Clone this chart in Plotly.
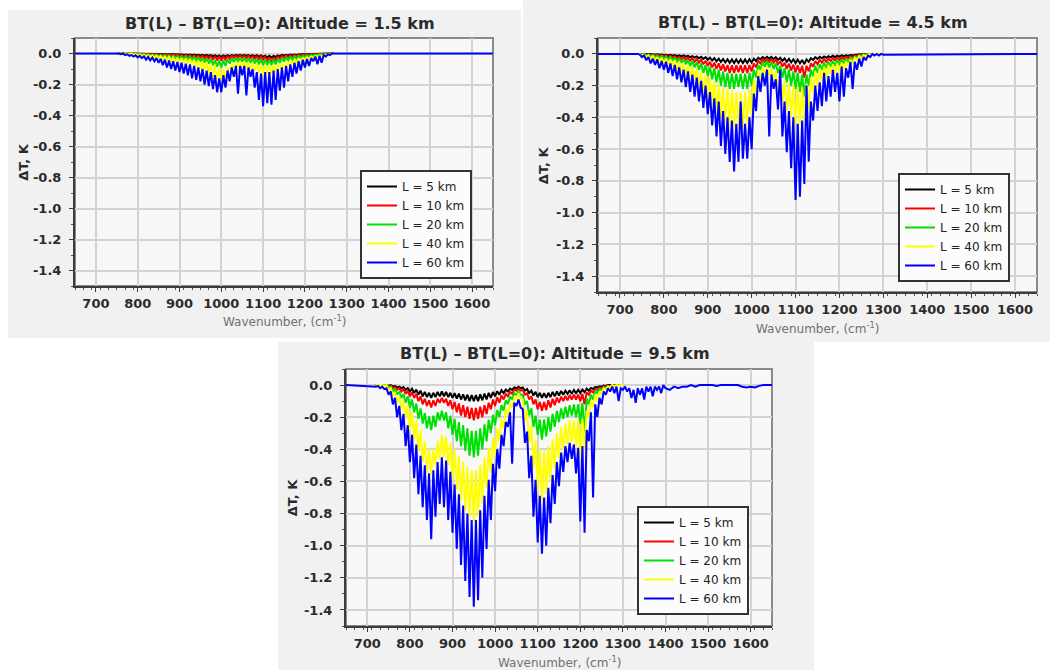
import plotly.graph_objects as go

# Axis limits and ticks shared by the three panels
WN_MIN, WN_MAX = 650, 1650
X_TICKS = list(range(700, 1601, 100))
Y_TICKS = [0.0, -0.2, -0.4, -0.6, -0.8, -1.0, -1.2, -1.4]
Y_TICK_TEXT = ["0.0", "-0.2", "-0.4", "-0.6", "-0.8", "-1.0", "-1.2", "-1.4"]

PATH_LABELS = ["L = 5 km", "L = 10 km", "L = 20 km", "L = 40 km", "L = 60 km"]
PATH_COLORS = ["#000000", "#ff0000", "#00e000", "#ffff00", "#0000ff"]

# Wavenumber grids (cm^-1) on which the brightness-temperature differences are tabulated
WN_15 = list(range(750, 1271, 5))
WN_45 = list(range(740, 1301, 5))
WN_95 = list(range(720, 1301, 5))
WN_95_TAIL = list(range(1305, 1401, 5)) + list(range(1410, 1651, 10))

# ---------------- Altitude 1.5 km ----------------
DT_15_5 = [
    0, 0, 0, 0, 0, 0, 0, 0, -0.001, 0,
    -0.002, -0.001, -0.002, -0.001, -0.003, -0.002, -0.003, -0.002, -0.004, -0.002,
    -0.004, -0.003, -0.005, -0.003, -0.006, -0.004, -0.006, -0.004, -0.007, -0.005,
    -0.008, -0.005, -0.009, -0.006, -0.01, -0.006, -0.011, -0.007, -0.012, -0.008,
    -0.013, -0.008, -0.015, -0.009, -0.016, -0.01, -0.018, -0.011, -0.02, -0.013,
    -0.022, -0.013, -0.02, -0.011, -0.017, -0.01, -0.015, -0.009, -0.014, -0.009,
    -0.015, -0.009, -0.016, -0.01, -0.017, -0.01, -0.018, -0.011, -0.02, -0.013,
    -0.022, -0.014, -0.024, -0.015, -0.026, -0.015, -0.022, -0.012, -0.017, -0.009,
    -0.014, -0.008, -0.012, -0.007, -0.01, -0.006, -0.009, -0.005, -0.007, -0.004,
    -0.006, -0.003, -0.005, -0.003, -0.004, -0.002, -0.003, -0.001, -0.002, 0,
    -0.001, 0, 0, 0, 0,
]
DT_15_10 = [
    0, 0, 0, 0, 0, 0, 0, 0, -0.002, -0.001,
    -0.003, -0.002, -0.004, -0.002, -0.005, -0.003, -0.006, -0.003, -0.007, -0.004,
    -0.008, -0.005, -0.01, -0.005, -0.011, -0.006, -0.013, -0.007, -0.014, -0.008,
    -0.016, -0.009, -0.018, -0.01, -0.02, -0.011, -0.022, -0.012, -0.024, -0.013,
    -0.027, -0.014, -0.03, -0.016, -0.033, -0.018, -0.037, -0.02, -0.042, -0.022,
    -0.045, -0.021, -0.04, -0.018, -0.033, -0.015, -0.028, -0.014, -0.026, -0.013,
    -0.027, -0.014, -0.029, -0.015, -0.031, -0.016, -0.034, -0.018, -0.037, -0.019,
    -0.04, -0.021, -0.045, -0.025, -0.055, -0.025, -0.045, -0.019, -0.032, -0.015,
    -0.027, -0.012, -0.023, -0.011, -0.02, -0.009, -0.017, -0.008, -0.014, -0.007,
    -0.012, -0.005, -0.01, -0.004, -0.008, -0.003, -0.006, -0.002, -0.004, -0.001,
    -0.002, 0, -0.001, 0, 0,
]
DT_15_20 = [
    0, 0, 0, 0, 0, 0, 0, 0, -0.005, -0.003,
    -0.007, -0.004, -0.009, -0.005, -0.011, -0.006, -0.013, -0.007, -0.015, -0.008,
    -0.018, -0.01, -0.02, -0.011, -0.023, -0.013, -0.026, -0.014, -0.029, -0.016,
    -0.032, -0.018, -0.035, -0.019, -0.038, -0.021, -0.042, -0.023, -0.047, -0.026,
    -0.052, -0.029, -0.058, -0.032, -0.065, -0.036, -0.075, -0.042, -0.085, -0.046,
    -0.09, -0.044, -0.08, -0.037, -0.065, -0.031, -0.055, -0.028, -0.05, -0.027,
    -0.052, -0.028, -0.056, -0.031, -0.06, -0.033, -0.065, -0.035, -0.07, -0.038,
    -0.075, -0.039, -0.075, -0.039, -0.075, -0.038, -0.07, -0.034, -0.06, -0.029,
    -0.052, -0.025, -0.045, -0.022, -0.04, -0.019, -0.034, -0.016, -0.028, -0.013,
    -0.023, -0.011, -0.019, -0.009, -0.015, -0.007, -0.011, -0.005, -0.008, -0.003,
    -0.005, -0.001, -0.002, 0, 0,
]
DT_15_40 = [
    0, 0, 0, 0, 0, 0, -0.005, 0, -0.01, -0.003,
    -0.012, -0.006, -0.015, -0.008, -0.018, -0.01, -0.022, -0.012, -0.026, -0.014,
    -0.03, -0.017, -0.035, -0.02, -0.04, -0.022, -0.045, -0.025, -0.05, -0.028,
    -0.055, -0.03, -0.06, -0.033, -0.065, -0.036, -0.075, -0.04, -0.085, -0.045,
    -0.1, -0.05, -0.11, -0.055, -0.13, -0.065, -0.15, -0.075, -0.17, -0.09,
    -0.18, -0.1, -0.15, -0.09, -0.11, -0.07, -0.09, -0.055, -0.09, -0.05,
    -0.09, -0.05, -0.1, -0.055, -0.1, -0.06, -0.11, -0.062, -0.13, -0.07,
    -0.14, -0.075, -0.13, -0.075, -0.13, -0.072, -0.12, -0.07, -0.1, -0.062,
    -0.09, -0.055, -0.08, -0.048, -0.07, -0.042, -0.06, -0.036, -0.05, -0.03,
    -0.04, -0.025, -0.035, -0.02, -0.03, -0.017, -0.02, -0.013, -0.015, -0.009,
    -0.01, -0.006, -0.005, -0.003, 0,
]
DT_15_60 = [
    0, 0, -0.005, 0, -0.01, -0.005, -0.015, -0.01, -0.02, -0.012,
    -0.025, -0.015, -0.03, -0.018, -0.04, -0.022, -0.045, -0.026, -0.05, -0.03,
    -0.06, -0.035, -0.075, -0.04, -0.09, -0.045, -0.1, -0.05, -0.11, -0.055,
    -0.12, -0.06, -0.13, -0.065, -0.14, -0.07, -0.16, -0.08, -0.17, -0.09,
    -0.18, -0.1, -0.2, -0.11, -0.21, -0.12, -0.23, -0.14, -0.25, -0.16,
    -0.25, -0.14, -0.22, -0.11, -0.18, -0.09, -0.15, -0.08, -0.26, -0.08,
    -0.14, -0.08, -0.27, -0.09, -0.15, -0.1, -0.22, -0.12, -0.3, -0.13,
    -0.34, -0.12, -0.32, -0.12, -0.33, -0.11, -0.3, -0.1, -0.24, -0.09,
    -0.22, -0.08, -0.18, -0.07, -0.15, -0.06, -0.13, -0.05, -0.11, -0.04,
    -0.09, -0.035, -0.08, -0.03, -0.05, -0.02, -0.07, -0.015, -0.06, -0.01,
    -0.02, -0.005, -0.01, 0, 0,
]

# ---------------- Altitude 4.5 km ----------------
DT_45_5 = [
    0, 0, 0, 0, 0, 0, -0.003, -0.002, -0.005, -0.003,
    -0.006, -0.004, -0.008, -0.005, -0.01, -0.006, -0.012, -0.007, -0.014, -0.009,
    -0.016, -0.01, -0.018, -0.012, -0.021, -0.014, -0.024, -0.016, -0.028, -0.018,
    -0.032, -0.021, -0.037, -0.024, -0.042, -0.027, -0.047, -0.03, -0.051, -0.032,
    -0.054, -0.034, -0.057, -0.035, -0.058, -0.035, -0.057, -0.035, -0.058, -0.035,
    -0.058, -0.034, -0.055, -0.03, -0.045, -0.024, -0.035, -0.02, -0.03, -0.018,
    -0.03, -0.019, -0.033, -0.021, -0.038, -0.025, -0.044, -0.028, -0.05, -0.031,
    -0.054, -0.034, -0.058, -0.036, -0.06, -0.038, -0.065, -0.035, -0.05, -0.027,
    -0.038, -0.021, -0.032, -0.018, -0.028, -0.016, -0.025, -0.014, -0.022, -0.012,
    -0.02, -0.011, -0.018, -0.01, -0.016, -0.009, -0.013, -0.007, -0.01, -0.005,
    -0.006, -0.003, -0.004, -0.001, -0.002, 0, 0, 0, 0, 0,
    0, 0, 0,
]
DT_45_10 = [
    0, 0, 0, 0, -0.005, -0.003, -0.008, -0.005, -0.01, -0.006,
    -0.013, -0.008, -0.016, -0.01, -0.02, -0.012, -0.024, -0.015, -0.028, -0.018,
    -0.032, -0.02, -0.037, -0.024, -0.042, -0.028, -0.048, -0.032, -0.055, -0.037,
    -0.065, -0.043, -0.075, -0.05, -0.085, -0.055, -0.095, -0.06, -0.105, -0.065,
    -0.11, -0.07, -0.12, -0.072, -0.12, -0.072, -0.115, -0.072, -0.12, -0.072,
    -0.12, -0.07, -0.11, -0.06, -0.085, -0.045, -0.06, -0.035, -0.05, -0.032,
    -0.05, -0.033, -0.055, -0.037, -0.065, -0.045, -0.08, -0.055, -0.095, -0.062,
    -0.105, -0.068, -0.115, -0.072, -0.12, -0.075, -0.15, -0.075, -0.11, -0.06,
    -0.08, -0.045, -0.065, -0.038, -0.055, -0.033, -0.05, -0.03, -0.045, -0.027,
    -0.04, -0.024, -0.038, -0.021, -0.033, -0.018, -0.027, -0.014, -0.02, -0.01,
    -0.013, -0.006, -0.008, -0.003, -0.004, 0, 0, 0, 0, 0,
    0, 0, 0,
]
DT_45_20 = [
    0, 0, -0.005, 0, -0.01, -0.005, -0.015, -0.008, -0.02, -0.01,
    -0.025, -0.013, -0.03, -0.016, -0.035, -0.02, -0.04, -0.024, -0.05, -0.028,
    -0.055, -0.033, -0.065, -0.04, -0.075, -0.045, -0.085, -0.05, -0.1, -0.06,
    -0.12, -0.07, -0.14, -0.08, -0.16, -0.09, -0.18, -0.1, -0.2, -0.11,
    -0.21, -0.12, -0.22, -0.125, -0.22, -0.125, -0.21, -0.125, -0.22, -0.125,
    -0.22, -0.12, -0.2, -0.1, -0.15, -0.07, -0.1, -0.05, -0.08, -0.045,
    -0.085, -0.05, -0.095, -0.06, -0.12, -0.075, -0.15, -0.09, -0.18, -0.1,
    -0.2, -0.11, -0.22, -0.12, -0.24, -0.13, -0.27, -0.13, -0.2, -0.1,
    -0.14, -0.075, -0.12, -0.065, -0.1, -0.055, -0.09, -0.05, -0.08, -0.045,
    -0.075, -0.04, -0.07, -0.035, -0.06, -0.03, -0.05, -0.025, -0.04, -0.018,
    -0.025, -0.01, -0.015, -0.005, -0.008, 0, -0.003, 0, 0, 0,
    0, 0, 0,
]
DT_45_40 = [
    0, 0, -0.01, -0.005, -0.02, -0.01, -0.03, -0.015, -0.04, -0.02,
    -0.05, -0.025, -0.06, -0.03, -0.07, -0.035, -0.08, -0.04, -0.1, -0.05,
    -0.11, -0.06, -0.13, -0.07, -0.15, -0.08, -0.17, -0.09, -0.2, -0.11,
    -0.24, -0.13, -0.28, -0.15, -0.32, -0.17, -0.36, -0.19, -0.4, -0.21,
    -0.43, -0.22, -0.45, -0.23, -0.46, -0.24, -0.45, -0.24, -0.46, -0.24,
    -0.44, -0.22, -0.38, -0.16, -0.26, -0.1, -0.16, -0.08, -0.13, -0.08,
    -0.14, -0.09, -0.16, -0.11, -0.22, -0.14, -0.3, -0.17, -0.36, -0.19,
    -0.4, -0.2, -0.45, -0.21, -0.44, -0.21, -0.42, -0.19, -0.34, -0.15,
    -0.24, -0.11, -0.2, -0.09, -0.17, -0.08, -0.15, -0.07, -0.13, -0.065,
    -0.12, -0.06, -0.12, -0.055, -0.1, -0.045, -0.08, -0.035, -0.06, -0.025,
    -0.04, -0.015, -0.03, -0.008, -0.015, -0.003, -0.005, 0, 0, 0,
    0, 0, 0,
]
DT_45_60 = [
    0, -0.005, -0.02, -0.01, -0.04, -0.02, -0.06, -0.03, -0.07, -0.035,
    -0.09, -0.045, -0.1, -0.05, -0.12, -0.06, -0.14, -0.07, -0.16, -0.085,
    -0.18, -0.1, -0.21, -0.11, -0.24, -0.13, -0.27, -0.15, -0.3, -0.17,
    -0.34, -0.2, -0.38, -0.24, -0.45, -0.28, -0.52, -0.3, -0.58, -0.36,
    -0.63, -0.4, -0.68, -0.42, -0.74, -0.44, -0.68, -0.3, -0.66, -0.44,
    -0.66, -0.4, -0.6, -0.25, -0.36, -0.14, -0.24, -0.12, -0.2, -0.1,
    -0.52, -0.13, -0.22, -0.16, -0.35, -0.1, -0.52, -0.3, -0.62, -0.36,
    -0.72, -0.4, -0.92, -0.44, -0.9, -0.42, -0.82, -0.2, -0.68, -0.3,
    -0.42, -0.2, -0.36, -0.18, -0.33, -0.12, -0.3, -0.14, -0.27, -0.1,
    -0.24, -0.12, -0.3, -0.08, -0.27, -0.09, -0.15, -0.05, -0.22, -0.05,
    -0.1, -0.03, -0.08, -0.02, -0.04, -0.01, -0.02, 0, -0.01, 0,
    -0.01, 0, -0.005,
]

# ---------------- Altitude 9.5 km ----------------
DT_95_5 = [
    0, 0, 0, 0, 0, 0, -0.005, 0, -0.01, -0.005,
    -0.015, -0.01, -0.02, -0.012, -0.03, -0.018, -0.04, -0.022, -0.05, -0.028,
    -0.06, -0.035, -0.07, -0.042, -0.075, -0.048, -0.08, -0.048, -0.075, -0.042,
    -0.07, -0.04, -0.07, -0.042, -0.075, -0.048, -0.08, -0.05, -0.085, -0.053,
    -0.09, -0.058, -0.095, -0.06, -0.1, -0.063, -0.1, -0.063, -0.1, -0.058,
    -0.095, -0.053, -0.09, -0.048, -0.08, -0.043, -0.07, -0.038, -0.06, -0.032,
    -0.05, -0.028, -0.04, -0.022, -0.03, -0.015, -0.02, -0.01, -0.02, -0.015,
    -0.035, -0.025, -0.05, -0.035, -0.065, -0.042, -0.075, -0.048, -0.08, -0.05,
    -0.08, -0.048, -0.075, -0.042, -0.07, -0.04, -0.065, -0.037, -0.06, -0.035,
    -0.055, -0.032, -0.055, -0.03, -0.05, -0.03, -0.05, -0.028, -0.045, -0.022,
    -0.035, -0.018, -0.025, -0.012, -0.015, -0.008, -0.01, -0.003, -0.005, 0,
    0, 0, 0, 0, 0, 0, 0,
]
DT_95_10 = [
    0, 0, 0, 0, 0, 0, -0.01, -0.005, -0.02, -0.012,
    -0.03, -0.018, -0.04, -0.025, -0.055, -0.035, -0.07, -0.045, -0.08, -0.055,
    -0.1, -0.07, -0.12, -0.085, -0.13, -0.095, -0.14, -0.095, -0.13, -0.085,
    -0.11, -0.08, -0.11, -0.085, -0.13, -0.095, -0.15, -0.105, -0.17, -0.115,
    -0.19, -0.125, -0.2, -0.135, -0.21, -0.142, -0.22, -0.142, -0.21, -0.135,
    -0.2, -0.125, -0.18, -0.11, -0.15, -0.09, -0.13, -0.075, -0.11, -0.065,
    -0.09, -0.055, -0.07, -0.042, -0.055, -0.028, -0.035, -0.02, -0.035, -0.03,
    -0.06, -0.05, -0.09, -0.07, -0.12, -0.09, -0.15, -0.105, -0.16, -0.105,
    -0.155, -0.095, -0.14, -0.085, -0.125, -0.078, -0.11, -0.072, -0.1, -0.068,
    -0.095, -0.062, -0.09, -0.06, -0.09, -0.06, -0.1, -0.055, -0.12, -0.045,
    -0.06, -0.035, -0.045, -0.025, -0.03, -0.015, -0.02, -0.008, -0.01, -0.003,
    -0.005, 0, 0, 0, 0, 0, 0,
]
DT_95_20 = [
    0, 0, 0, 0, 0, 0, -0.015, -0.01, -0.04, -0.025,
    -0.06, -0.04, -0.08, -0.055, -0.11, -0.07, -0.14, -0.09, -0.17, -0.115,
    -0.21, -0.145, -0.24, -0.175, -0.27, -0.195, -0.28, -0.19, -0.26, -0.17,
    -0.22, -0.16, -0.22, -0.17, -0.27, -0.19, -0.31, -0.21, -0.35, -0.23,
    -0.38, -0.25, -0.41, -0.27, -0.44, -0.285, -0.45, -0.285, -0.44, -0.27,
    -0.4, -0.245, -0.35, -0.215, -0.3, -0.185, -0.25, -0.155, -0.2, -0.125,
    -0.16, -0.095, -0.12, -0.07, -0.09, -0.05, -0.06, -0.04, -0.06, -0.06,
    -0.12, -0.1, -0.19, -0.145, -0.26, -0.19, -0.31, -0.215, -0.34, -0.215,
    -0.32, -0.2, -0.29, -0.18, -0.26, -0.16, -0.23, -0.145, -0.21, -0.135,
    -0.2, -0.125, -0.19, -0.12, -0.2, -0.12, -0.24, -0.11, -0.3, -0.085,
    -0.12, -0.06, -0.09, -0.04, -0.05, -0.025, -0.03, -0.015, -0.02, -0.007,
    -0.01, -0.003, -0.005, 0, 0, 0, 0,
]
DT_95_40 = [
    0, 0, 0, 0, -0.005, 0, -0.03, -0.02, -0.07, -0.045,
    -0.11, -0.07, -0.15, -0.1, -0.21, -0.13, -0.28, -0.17, -0.34, -0.22,
    -0.41, -0.28, -0.48, -0.35, -0.54, -0.4, -0.56, -0.4, -0.5, -0.35,
    -0.46, -0.31, -0.45, -0.32, -0.5, -0.36, -0.58, -0.4, -0.65, -0.44,
    -0.72, -0.48, -0.78, -0.51, -0.82, -0.53, -0.85, -0.53, -0.82, -0.5,
    -0.74, -0.45, -0.64, -0.39, -0.54, -0.33, -0.44, -0.27, -0.35, -0.21,
    -0.27, -0.15, -0.19, -0.11, -0.14, -0.08, -0.09, -0.05, -0.09, -0.09,
    -0.22, -0.16, -0.36, -0.25, -0.52, -0.34, -0.66, -0.4, -0.72, -0.41,
    -0.68, -0.38, -0.6, -0.34, -0.52, -0.3, -0.45, -0.26, -0.4, -0.24,
    -0.37, -0.22, -0.36, -0.22, -0.38, -0.22, -0.45, -0.21, -0.4, -0.16,
    -0.2, -0.1, -0.14, -0.06, -0.1, -0.04, -0.06, -0.02, -0.03, -0.01,
    -0.015, 0, -0.01, 0, -0.005, 0, 0,
]
DT_95_60 = [
    -0.01, -0.005, -0.02, -0.01, -0.025, -0.02, -0.06, -0.04, -0.12, -0.08,
    -0.2, -0.13, -0.28, -0.18, -0.38, -0.25, -0.48, -0.31, -0.58, -0.37,
    -0.68, -0.44, -0.76, -0.5, -0.84, -0.55, -0.96, -0.53, -0.82, -0.48,
    -0.74, -0.45, -0.76, -0.47, -0.84, -0.54, -0.92, -0.62, -1.02, -0.68,
    -1.12, -0.75, -1.22, -0.8, -1.32, -0.84, -1.38, -0.84, -1.34, -0.78,
    -1.2, -0.69, -1.02, -0.59, -0.84, -0.49, -0.66, -0.4, -0.52, -0.31,
    -0.38, -0.23, -0.26, -0.17, -0.49, -0.11, -0.13, -0.09, -0.14, -0.15,
    -0.36, -0.29, -0.58, -0.44, -0.82, -0.59, -0.98, -0.69, -1.05, -0.7,
    -1.0, -0.64, -0.86, -0.56, -0.74, -0.48, -0.63, -0.42, -0.54, -0.38,
    -0.48, -0.36, -0.46, -0.37, -0.55, -0.39, -0.85, -0.38, -0.92, -0.28,
    -0.35, -0.17, -0.7, -0.12, -0.2, -0.08, -0.12, -0.04, -0.06, -0.02,
    -0.04, -0.01, -0.05, -0.01, -0.1, -0.02, -0.03,
]
DT_95_60_TAIL = [
    -0.01, -0.04, -0.02, -0.08, -0.03, -0.11, -0.02, -0.06, -0.02, -0.09,
    -0.01, -0.04, -0.01, -0.07, -0.01, -0.03, -0.01, -0.05, 0, -0.02,
    -0.03, -0.01, -0.02, -0.01, -0.01, 0, -0.01, 0, 0, 0,
    0, -0.005, 0, 0, 0, 0, 0, -0.01, -0.015, -0.01,
    -0.015, -0.005, 0, 0, 0,
]

PANELS = [
    dict(alt="1.5", wn=WN_15, series=[DT_15_5, DT_15_10, DT_15_20, DT_15_40, DT_15_60],
         tail=None, xa="x", ya="y", legend="legend",
         xdom=(75, 493), ydom=(38, 286), leg=(360, 170)),
    dict(alt="4.5", wn=WN_45, series=[DT_45_5, DT_45_10, DT_45_20, DT_45_40, DT_45_60],
         tail=None, xa="x2", ya="y2", legend="legend2",
         xdom=(598, 1037), ydom=(38, 292), leg=(898, 173)),
    dict(alt="9.5", wn=WN_95, series=[DT_95_5, DT_95_10, DT_95_20, DT_95_40, DT_95_60],
         tail=(WN_95_TAIL, DT_95_60_TAIL), xa="x3", ya="y3", legend="legend3",
         xdom=(346, 772), ydom=(369, 626), leg=(637, 506)),
]

# Grey card behind each panel (pixel boxes on the 1050x670 canvas)
CARDS = [(8, 10, 521, 338), (523, 0, 1050, 342), (278, 342, 814, 670)]

W, H = 1050, 670
FONT = "DejaVu Sans"
INK = "#2b2b2b"

fig = go.Figure()

for p in PANELS:
    last = len(PATH_LABELS) - 1
    for i, (label, color, vals) in enumerate(zip(PATH_LABELS, PATH_COLORS, p["series"])):
        x, y = list(p["wn"]), list(vals)
        if i == last:
            # the longest path carries the zero baseline across the full band
            x = [WN_MIN] + x
            y = [0.0] + y
            if p["tail"] is not None:
                x += p["tail"][0]
                y += p["tail"][1]
            else:
                x += [WN_MAX]
                y += [0.0]
        fig.add_trace(go.Scatter(
            x=x, y=y, mode="lines", name=label,
            line=dict(color=color, width=2, simplify=False),
            xaxis=p["xa"], yaxis=p["ya"], legend=p["legend"],
            hoverinfo="skip",
        ))

layout = dict(
    width=W, height=H,
    margin=dict(l=0, r=0, t=0, b=0),
    paper_bgcolor="#ffffff",
    plot_bgcolor="#f8f8f8",
    showlegend=True,
    shapes=[], annotations=[],
)

for k, p in enumerate(PANELS):
    sfx = "" if k == 0 else str(k + 1)
    x0, x1 = p["xdom"]
    y0, y1 = p["ydom"]
    layout["xaxis" + sfx] = dict(
        domain=[x0 / W, x1 / W], anchor=p["ya"], range=[WN_MIN, WN_MAX],
        tickmode="array", tickvals=X_TICKS, ticktext=[str(v) for v in X_TICKS],
        tickangle=0, ticks="outside", ticklen=4, tickcolor="#3c3c3c",
        ticklabelstandoff=0,
        tickfont=dict(family=FONT, size=13, color=INK, weight="bold"),
        minor=dict(tick0=WN_MIN, dtick=20, ticks="outside", ticklen=2,
                   tickcolor="#555555", showgrid=False),
        showgrid=True, gridcolor="#d3d3d3", gridwidth=1.5,
        showline=True, linecolor="#3c3c3c", linewidth=2,
        zeroline=False, fixedrange=True,
    )
    layout["yaxis" + sfx] = dict(
        domain=[1 - y1 / H, 1 - y0 / H], anchor=p["xa"], range=[-1.5, 0.1],
        tickmode="array", tickvals=Y_TICKS, ticktext=Y_TICK_TEXT,
        ticks="outside", ticklen=4, tickcolor="#3c3c3c",
        ticklabelstandoff=5,
        tickfont=dict(family=FONT, size=13, color=INK, weight="bold"),
        minor=dict(tick0=0, dtick=0.1, ticks="outside", ticklen=2,
                   tickcolor="#555555", showgrid=False),
        showgrid=True, gridcolor="#d3d3d3", gridwidth=1.5,
        showline=True, linecolor="#3c3c3c", linewidth=2,
        zeroline=False, fixedrange=True,
    )
    lx, ly = p["leg"]
    layout[p["legend"]] = dict(
        x=lx / W, y=1 - ly / H, xanchor="left", yanchor="top",
        xref="paper", yref="paper",
        bgcolor="#fcfcfc", bordercolor="#333333", borderwidth=2,
        font=dict(family=FONT, size=12, color="#222222"),
        itemwidth=30, tracegroupgap=0,
    )
    xd, yd = p["xa"] + " domain", p["ya"] + " domain"
    # light plot area with a grey frame
    layout["shapes"].append(dict(
        type="rect", xref=xd, yref=yd, x0=0, x1=1, y0=0, y1=1,
        fillcolor="#f8f8f8", line=dict(color="#8a8a8a", width=2), layer="below",
    ))
    layout["annotations"] += [
        dict(text=f"BT(L) – BT(L=0): Altitude = {p['alt']} km",
             xref=xd, yref=yd, x=0.49, y=1.06, xanchor="center", yanchor="middle",
             showarrow=False, font=dict(family=FONT, size=16, color=INK, weight="bold")),
        dict(text="ΔT, K", textangle=-90,
             xref=xd, yref=yd, x=-0.125, y=0.5, xanchor="center", yanchor="middle",
             showarrow=False, font=dict(family=FONT, size=13, color=INK, weight="bold")),
        dict(text="Wavenumber, (cm<sup>-1</sup>)",
             xref=xd, yref=yd, x=0.5, y=-0.14, xanchor="center", yanchor="middle",
             showarrow=False, font=dict(family=FONT, size=12, color="#707070")),
    ]

for (cx0, cy0, cx1, cy1) in CARDS:
    layout["shapes"].insert(0, dict(
        type="rect", xref="paper", yref="paper",
        x0=cx0 / W, x1=cx1 / W, y0=1 - cy1 / H, y1=1 - cy0 / H,
        fillcolor="#f1f1f1", line=dict(width=0), layer="below",
    ))

fig.update_layout(**layout)
fig.write_html("out.html")
